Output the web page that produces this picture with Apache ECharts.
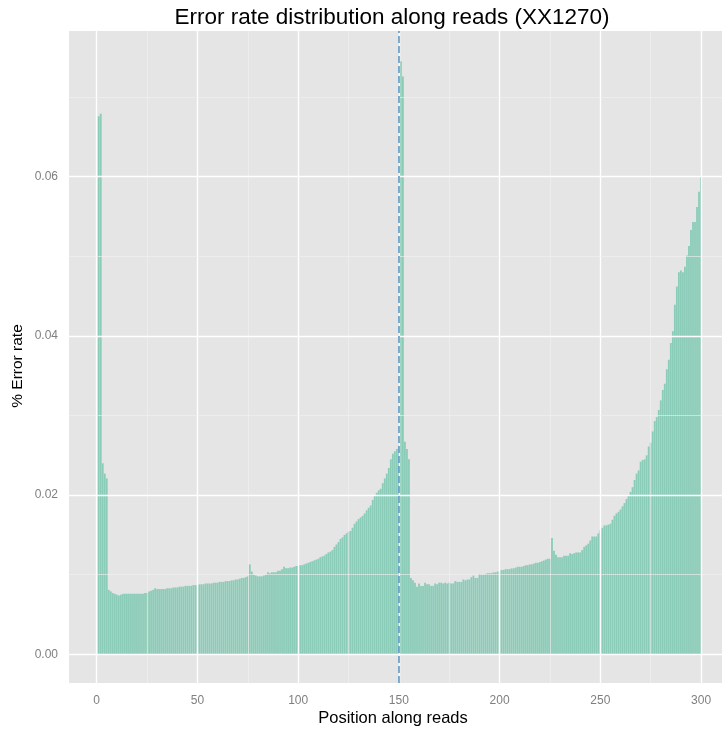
<!DOCTYPE html>
<html>
<head>
<meta charset="utf-8">
<script src="https://cdn.jsdelivr.net/npm/echarts@6/dist/echarts.min.js"></script>
<style>
html,body{margin:0;padding:0;background:#fff;}
#chart{width:722px;height:729px;}
</style>
</head>
<body>
<div id="chart"></div>
<script>
// Error rate (%) per position, read 1 (positions 1-150)
const read1Values = [
  0.0676, 0.0679, 0.0240, 0.0227, 0.0221, 0.0081, 0.0079, 0.0077, 0.0076, 0.0075,
  0.0074, 0.0075, 0.0076, 0.0076, 0.0076, 0.0076, 0.0076, 0.0076, 0.0076, 0.0076,
  0.0076, 0.0076, 0.0076, 0.0077, 0.0077, 0.0079, 0.0080, 0.0081, 0.0083, 0.0082,
  0.0082, 0.0082, 0.0082, 0.0082, 0.0083, 0.0083, 0.0083, 0.0084, 0.0084, 0.0084,
  0.0085, 0.0085, 0.0085, 0.0086, 0.0086, 0.0086, 0.0086, 0.0087, 0.0087, 0.0087,
  0.0088, 0.0088, 0.0088, 0.0089, 0.0089, 0.0089, 0.0089, 0.0090, 0.0090, 0.0090,
  0.0091, 0.0091, 0.0091, 0.0092, 0.0092, 0.0092, 0.0093, 0.0093, 0.0094, 0.0094,
  0.0095, 0.0096, 0.0096, 0.0097, 0.0098, 0.0113, 0.0104, 0.0100, 0.0099, 0.0098,
  0.0098, 0.0098, 0.0099, 0.0100, 0.0103, 0.0102, 0.0103, 0.0103, 0.0103, 0.0105,
  0.0105, 0.0107, 0.0110, 0.0108, 0.0108, 0.0109, 0.0109, 0.0110, 0.0111, 0.0111,
  0.0112, 0.0112, 0.0113, 0.0114, 0.0115, 0.0116, 0.0117, 0.0118, 0.0119, 0.0120,
  0.0122, 0.0123, 0.0124, 0.0126, 0.0128, 0.0129, 0.0131, 0.0135, 0.0138, 0.0141,
  0.0145, 0.0147, 0.0150, 0.0152, 0.0154, 0.0155, 0.0159, 0.0164, 0.0167, 0.0170,
  0.0172, 0.0174, 0.0177, 0.0181, 0.0184, 0.0187, 0.0194, 0.0200, 0.0203, 0.0206,
  0.0208, 0.0215, 0.0221, 0.0227, 0.0234, 0.0245, 0.0252, 0.0255, 0.0258, 0.0262
];
// Error rate (%) per position, read 2 (positions 151-300)
const read2Values = [
  0.0745, 0.0726, 0.0267, 0.0258, 0.0245, 0.0096, 0.0093, 0.0090, 0.0085, 0.0089,
  0.0086, 0.0086, 0.0090, 0.0088, 0.0088, 0.0086, 0.0086, 0.0089, 0.0088, 0.0090,
  0.0090, 0.0089, 0.0090, 0.0089, 0.0090, 0.0089, 0.0089, 0.0092, 0.0091, 0.0091,
  0.0091, 0.0094, 0.0093, 0.0094, 0.0094, 0.0097, 0.0099, 0.0096, 0.0096, 0.0101,
  0.0100, 0.0100, 0.0101, 0.0102, 0.0102, 0.0102, 0.0103, 0.0103, 0.0104, 0.0104,
  0.0106, 0.0106, 0.0107, 0.0107, 0.0107, 0.0108, 0.0108, 0.0109, 0.0110, 0.0110,
  0.0110, 0.0111, 0.0112, 0.0112, 0.0113, 0.0113, 0.0114, 0.0115, 0.0115, 0.0116,
  0.0117, 0.0118, 0.0119, 0.0120, 0.0120, 0.0146, 0.0130, 0.0125, 0.0122, 0.0122,
  0.0122, 0.0124, 0.0124, 0.0124, 0.0127, 0.0126, 0.0127, 0.0128, 0.0128, 0.0128,
  0.0131, 0.0135, 0.0137, 0.0139, 0.0143, 0.0148, 0.0148, 0.0148, 0.0152, 0.0156,
  0.0159, 0.0162, 0.0162, 0.0163, 0.0164, 0.0169, 0.0174, 0.0177, 0.0179, 0.0182,
  0.0186, 0.0190, 0.0195, 0.0200, 0.0204, 0.0210, 0.0219, 0.0227, 0.0231, 0.0242,
  0.0244, 0.0245, 0.0250, 0.0261, 0.0266, 0.0280, 0.0293, 0.0298, 0.0307, 0.0319,
  0.0332, 0.0340, 0.0358, 0.0370, 0.0391, 0.0406, 0.0439, 0.0462, 0.0480, 0.0482,
  0.0480, 0.0487, 0.0501, 0.0513, 0.0533, 0.0543, 0.0543, 0.0562, 0.0581, 0.0600
];
const readLength = 150;
const xTickValues = [0, 50, 100, 150, 200, 250, 300];
const xMinorValues = [25, 75, 125, 175, 225, 275];
const yTickValues = [0, 0.02, 0.04, 0.06];
const yMinorValues = [0.01, 0.03, 0.05, 0.07];
const titleText = 'Error rate distribution along reads (XX1270)';
const xTitle = 'Position along reads';
const yTitle = '% Error rate';

const allValues = read1Values.concat(read2Values);
const barData = allValues.map((v, i) => [i + 1, v]);

const FONT = '"Liberation Sans", Arial, Helvetica, sans-serif';
const chart = echarts.init(document.getElementById('chart'), null, {renderer: 'canvas'});

const gridLines = []
  .concat(xTickValues.map(v => ({xAxis: v, lineStyle: {color: '#FFFFFF', width: 1.4, type: 'solid'}})))
  .concat(xMinorValues.map(v => ({xAxis: v, lineStyle: {color: '#F2F2F2', width: 0.6, type: 'solid'}})))
  .concat(yTickValues.map(v => ({yAxis: v, lineStyle: {color: '#FFFFFF', width: 1.4, type: 'solid'}})))
  .concat(yMinorValues.map(v => ({yAxis: v, lineStyle: {color: '#F2F2F2', width: 0.6, type: 'solid'}})));

chart.setOption({
  animation: false,
  backgroundColor: '#FFFFFF',
  grid: {
    left: 69, top: 31, right: 0, bottom: 46,
    show: true, backgroundColor: '#E5E5E5', borderWidth: 0
  },
  xAxis: {
    type: 'value',
    min: -13.75, max: 310.4,
    axisLine: {show: false},
    splitLine: {show: false},
    axisTick: {show: true, customValues: xTickValues, length: 4, lineStyle: {color: '#7F7F7F', width: 1}},
    axisLabel: {show: true, customValues: xTickValues, margin: 12, color: '#7F7F7F', fontSize: 12, fontFamily: FONT}
  },
  yAxis: {
    type: 'value',
    min: -0.0036, max: 0.0783,
    axisLine: {show: false},
    splitLine: {show: false},
    axisTick: {show: true, customValues: yTickValues, length: 4, lineStyle: {color: '#7F7F7F', width: 1}},
    axisLabel: {show: true, customValues: yTickValues, margin: 11, color: '#7F7F7F', fontSize: 12, fontFamily: FONT,
      formatter: v => v.toFixed(2)}
  },
  series: [
    {
      type: 'line',
      data: [],
      z: 1,
      silent: true,
      symbol: 'none',
      markLine: {
        silent: true, symbol: 'none', animation: false,
        label: {show: false},
        lineStyle: {type: 'solid'},
        emphasis: {disabled: true},
        data: gridLines
      }
    },
    {
      type: 'bar',
      data: barData,
      barWidth: 1.8,
      z: 2,
      itemStyle: {color: 'rgba(102,194,165,0.72)'},
      emphasis: {disabled: true}
    },
    {
      type: 'line',
      data: [],
      z: 3,
      silent: true,
      symbol: 'none',
      markLine: {
        silent: true, symbol: 'none', animation: false,
        label: {show: false},
        emphasis: {disabled: true},
        data: [{xAxis: readLength, lineStyle: {color: '#5E98C8', width: 1.6, type: [7, 3]}}]
      }
    }
  ],
  graphic: [
    {type: 'text', silent: true, x: 392, y: 18,
      style: {text: titleText, font: '22.5px ' + FONT, fill: '#000', textAlign: 'center', textVerticalAlign: 'middle'}},
    {type: 'text', silent: true, x: 393, y: 718,
      style: {text: xTitle, font: '16.5px ' + FONT, fill: '#000', textAlign: 'center', textVerticalAlign: 'middle'}},
    {type: 'text', silent: true, x: 18, y: 366, rotation: Math.PI / 2,
      style: {text: yTitle, font: '15.5px ' + FONT, fill: '#000', textAlign: 'center', textVerticalAlign: 'middle'}}
  ]
});
</script>
</body>
</html>
